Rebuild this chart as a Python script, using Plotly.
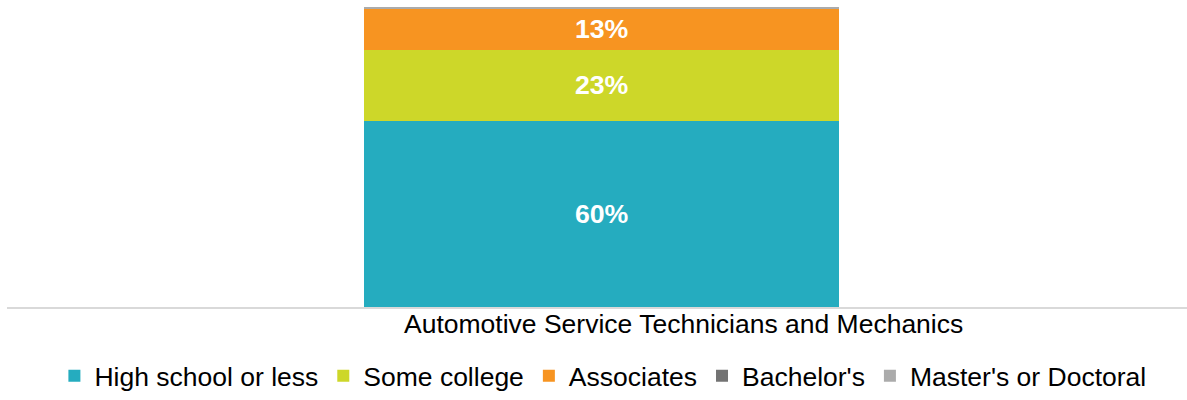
import plotly.graph_objects as go

# Educational attainment of the occupation (share of workers, %)
category = ["Automotive Service Technicians and Mechanics"]
levels = ["High school or less", "Some college", "Associates", "Bachelor's", "Master's or Doctoral"]
shares = [60, 23, 13, 0, 0.7]
show_label = [True, True, True, False, False]
colors = ["#25ACBF", "#CDD729", "#F79421", "#737373", "#ABABAB"]

FONT = "Liberation Sans, Arial, sans-serif"

fig = go.Figure()
for name, val, lab, col in zip(levels, shares, show_label, colors):
    fig.add_trace(go.Bar(
        x=[0], y=[val], name=name,
        marker=dict(color=col, line=dict(width=0)),
        width=0.403,
        text=[f"{val:.0f}%"] if lab else [""],
        textposition="inside", insidetextanchor="middle",
        constraintext="none",
        textfont=dict(family=FONT, size=26.7, color="white"),
        texttemplate="<b>%{text}</b>",
        hoverinfo="skip",
    ))

fig.update_layout(
    barmode="stack",
    width=1187, height=400,
    margin=dict(l=7, r=0, t=7, b=93),
    plot_bgcolor="white", paper_bgcolor="white",
    font=dict(family=FONT, color="#000000"),
    xaxis=dict(range=[-0.504, 0.496], showticklabels=False, showgrid=False,
               zeroline=False, showline=True, linecolor="#D9D9D9", linewidth=2,
               fixedrange=True),
    yaxis=dict(range=[0, sum(shares)], visible=False, showgrid=False, fixedrange=True),
    legend=dict(orientation="h", x=0.505, xanchor="center",
                yref="container", y=-0.035, yanchor="bottom",
                font=dict(family=FONT, size=26.5, color="#000000"),
                itemwidth=30, traceorder="normal", bgcolor="rgba(0,0,0,0)"),
    showlegend=True,
)
fig.add_annotation(text=category[0], x=0.573, y=-0.055, xref="paper", yref="paper",
                   xanchor="center", yanchor="middle", showarrow=False,
                   font=dict(family=FONT, size=26.5, color="#000000"))

fig.write_html("out.html")
